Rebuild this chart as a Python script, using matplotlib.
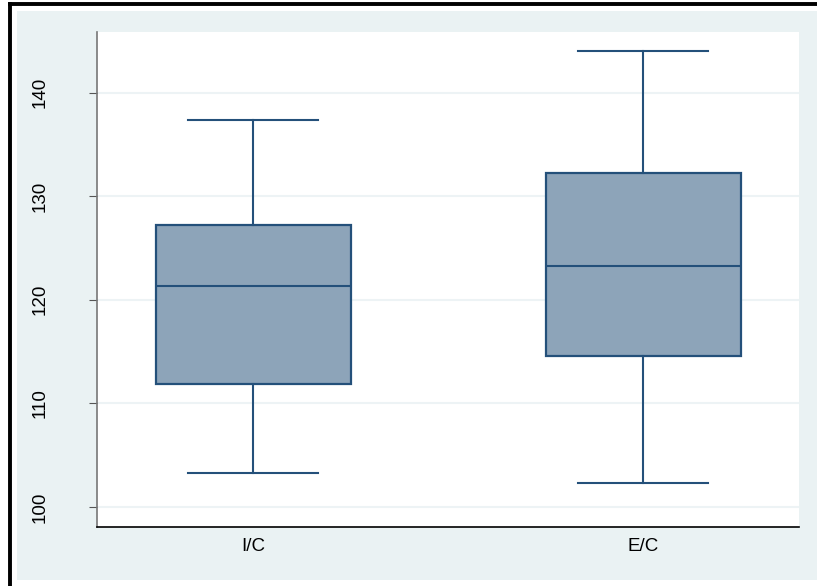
import numpy as np
import matplotlib.pyplot as plt
from matplotlib.patches import Rectangle
from matplotlib.lines import Line2D

plt.rcParams['font.family'] = ['Liberation Sans', 'DejaVu Sans']

# group labels and five-number summaries
groups = ["I/C", "E/C"]
whislo = [103.3, 102.3]
q1 = [111.9, 114.6]
med = [121.3, 123.3]
q3 = [127.2, 132.2]
whishi = [137.4, 144.0]
yticks = [100, 110, 120, 130, 140]

navy = "#24507a"
fill = "#8da4b9"
bg = "#eaf2f3"

W, H = 817, 586
fig = plt.figure(figsize=(W / 100, H / 100), dpi=100)

# light panel behind the plot region
fig.patches.append(Rectangle((17 / W, 1 - 580 / H), (W - 17) / W, (580 - 11) / H,
                             transform=fig.transFigure, facecolor=bg, edgecolor="none", zorder=-5))
# black frame lines on the left and top
fig.lines.append(Line2D([10 / W, 10 / W], [0, 1 - 4 / H], transform=fig.transFigure,
                        color="black", linewidth=2.8, zorder=-4))
fig.lines.append(Line2D([10 / W, 1], [1 - 4 / H, 1 - 4 / H], transform=fig.transFigure,
                        color="black", linewidth=2.8, zorder=-4))

ax = fig.add_axes([97 / W, 1 - 527 / H, (799 - 97) / W, (527 - 32) / H])
ax.set_facecolor("white")

stats = []
for i in range(len(groups)):
    stats.append({"label": groups[i], "whislo": whislo[i], "q1": q1[i], "med": med[i],
                  "q3": q3[i], "whishi": whishi[i], "fliers": []})

ax.bxp(stats, positions=[1, 2], widths=0.5, patch_artist=True, showfliers=False,
       boxprops=dict(facecolor=fill, edgecolor=navy, linewidth=1.6),
       medianprops=dict(color=navy, linewidth=1.5),
       whiskerprops=dict(color=navy, linewidth=1.5),
       capprops=dict(color=navy, linewidth=1.5),
       capwidths=0.333)

ax.set_xlim(0.6, 2.4)
ax.set_ylim(98.07, 145.85)
ax.set_yticks(yticks)
ax.set_yticklabels([str(t) for t in yticks], rotation=90, va="center", fontsize=13.5)
ax.grid(axis="y", color="#edf3f5", linewidth=1.5)
ax.set_axisbelow(True)
ax.tick_params(axis="y", length=6, width=0.8, color="#555555", pad=29)
ax.tick_params(axis="x", length=0, labelsize=13.5, pad=8)

for side in ["top", "right"]:
    ax.spines[side].set_visible(False)
ax.spines["left"].set_color("#777777")
ax.spines["left"].set_linewidth(1.2)
ax.spines["bottom"].set_color("black")
ax.spines["bottom"].set_linewidth(1.2)

fig.savefig("out.png", dpi=100)
